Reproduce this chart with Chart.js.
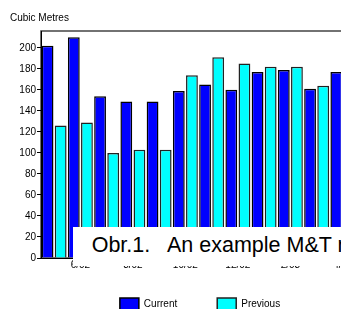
<!DOCTYPE html>
<html><head><meta charset="utf-8">
<script src="https://cdn.jsdelivr.net/npm/chart.js@4"></script>
<style>
html,body{margin:0;padding:0;background:#fff;overflow:hidden;width:341px;height:309px;}
#wrap{position:relative;width:400px;height:320px;}
#c{position:absolute;left:0;top:0;}
#caption{position:absolute;left:73px;top:227px;width:330px;height:39px;background:#fff;z-index:2;}
#caption span{position:absolute;left:18.7px;top:8.4px;display:block;font-family:"Liberation Sans",Arial,sans-serif;font-size:21.5px;line-height:21.5px;white-space:pre;color:#000;}
</style>
</head><body>
<div id="wrap">
<canvas id="c" width="400" height="320"></canvas>
<div id="caption"><span>Obr.1.   An example M&amp;T report</span></div>
</div>
<script>
const categories = ['5/02','6/02','7/02','8/02','9/02','10/02','11/02','12/02','1/03','2/03','3/03','4/03'];
const current  = [202, 210, 154, 149, 149, 159, 165, 160, 177, 179, 161, 177];
const previous = [126, 129, 100, 103, 103, 174, 191, 185, 182, 182, 164, 170];
const seriesNames = ['Current', 'Previous'];
const yAxisTitle = 'Cubic Metres';
const yMax = 216;
const yStep = 20;

const FONT = '"Liberation Sans", Arial, sans-serif';

const framePlugin = {
  id: 'frame',
  beforeDraw(chart) {
    const {ctx, chartArea: a} = chart;
    ctx.save();
    ctx.strokeStyle = '#444';
    ctx.lineWidth = 1.5;
    ctx.strokeRect(a.left, a.top, a.right - a.left, a.bottom - a.top);
    ctx.restore();
  },
  afterDraw(chart) {
    const {ctx} = chart;
    ctx.save();
    ctx.fillStyle = '#000';
    ctx.font = '10px ' + FONT;
    ctx.textBaseline = 'alphabetic';
    ctx.textAlign = 'left';
    ctx.fillText(yAxisTitle, 10, 20.5);
    ctx.restore();
  }
};

new Chart(document.getElementById('c'), {
  type: 'bar',
  data: {
    labels: categories,
    datasets: [
      {label: seriesNames[0], data: current, backgroundColor: '#0000ff', borderColor: '#000', borderWidth: 1.5,
       categoryPercentage: 1, barPercentage: 0.9},
      {label: seriesNames[1], data: previous, backgroundColor: '#00ffff', borderColor: '#222', borderWidth: 1.5,
       categoryPercentage: 1, barPercentage: 0.9}
    ]
  },
  options: {
    responsive: false,
    animation: false,
    devicePixelRatio: 1,
    layout: {padding: {top: 31, left: 0, right: 0, bottom: 0}},
    plugins: {
      legend: {
        position: 'bottom',
        labels: {boxWidth: 19, boxHeight: 12, padding: 40, color: '#000', font: {size: 10, family: FONT}}
      },
      tooltip: {enabled: false},
      title: {display: false}
    },
    scales: {
      x: {
        grid: {display: false},
        border: {display: true, color: '#000', width: 1},
        ticks: {autoSkip: false, maxRotation: 0, minRotation: 0, mirror: true, padding: -13, color: '#000', font: {size: 10, family: FONT},
                callback: (v, i) => (i % 2 === 1 ? categories[i] : '')},
        afterFit: s => { s.height = 0; }
      },
      y: {
        min: 0, max: yMax,
        ticks: {stepSize: yStep, includeBounds: false, padding: 1, color: '#000', font: {size: 10, family: FONT}},
        grid: {drawOnChartArea: false, drawTicks: true, tickLength: 4, color: '#000'},
        border: {display: true, color: '#000', width: 1},
        afterFit: s => { s.width = 41; }
      },
      spacer: {
        type: 'linear', axis: 'y', position: 'right', display: true,
        grid: {display: false}, border: {display: false}, ticks: {display: false},
        afterFit: s => { s.width = 44; }
      }
    }
  },
  plugins: [framePlugin]
});
</script>
</body></html>
